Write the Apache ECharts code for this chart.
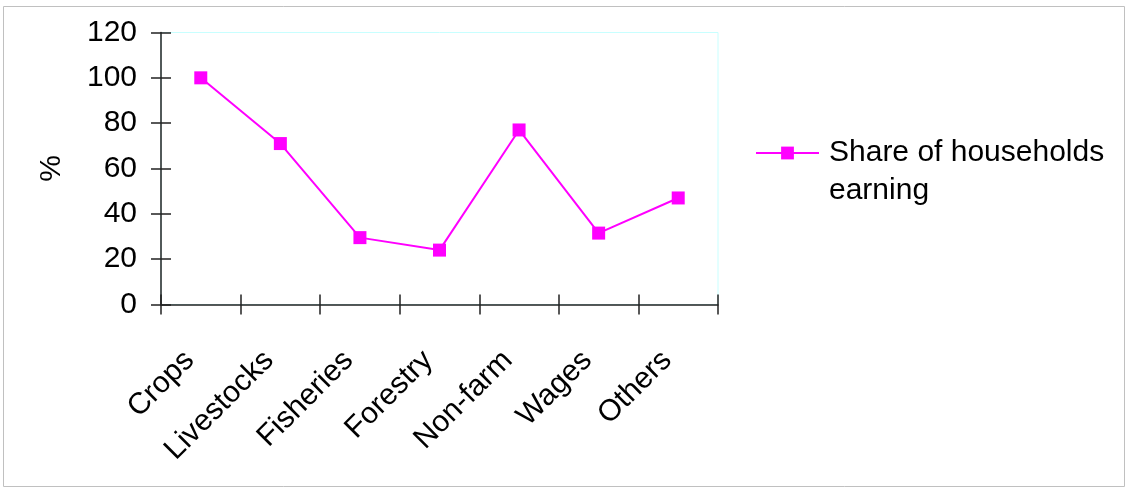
<!DOCTYPE html>
<html>
<head>
<meta charset="utf-8">
<script src="https://cdn.jsdelivr.net/npm/echarts@6/dist/echarts.min.js"></script>
<style>
html,body{margin:0;padding:0;background:#fff;}
#chart{width:1128px;height:489px;}
</style>
</head>
<body>
<div id="chart"></div>
<script>
var categories = ['Crops', 'Livestocks', 'Fisheries', 'Forestry', 'Non-farm', 'Wages', 'Others'];
var shareValues = [100, 71, 29.5, 24, 77, 31.5, 47];
var seriesName = 'Share of households earning';
var yTicks = { min: 0, max: 120, interval: 20 };

var FONT = '"Liberation Sans", Arial, sans-serif';
var chart = echarts.init(document.getElementById('chart'), null, { renderer: 'canvas' });
var axisColor = '#222';
var option = {
  backgroundColor: '#fff',
  animation: false,
  textStyle: { fontFamily: FONT },
  grid: {
    left: 161, top: 32.5, right: 410, bottom: 184.5,
    show: true, borderColor: '#c8ffff', borderWidth: 1, backgroundColor: 'transparent'
  },
  graphic: [{
    type: 'rect', silent: true,
    shape: { x: 3.5, y: 6.5, width: 1121, height: 480 },
    style: { fill: 'none', stroke: '#c0c0c0', lineWidth: 1 }
  }],
  legend: {
    left: 755, top: 96, padding: 0,
    orient: 'vertical',
    itemWidth: 63, itemHeight: 16,
    data: [seriesName],
    formatter: function () { return '\nShare of households\nearning'; },
    textStyle: { fontFamily: FONT, fontSize: 30, color: '#000', lineHeight: 38, padding: [0, 0, 0, 5] }
  },
  xAxis: [{
    type: 'category', data: categories, boundaryGap: true,
    axisLine: { show: true, onZero: false, lineStyle: { color: axisColor, width: 1.5 } },
    axisTick: { show: true, length: 10, alignWithLabel: false, lineStyle: { color: axisColor, width: 1.5 } },
    axisLabel: { rotate: 45, fontSize: 30, color: '#000', margin: 40, padding: [0, 16, 0, 0], fontFamily: FONT, interval: 0 },
    splitLine: { show: false }
  }, {
    type: 'category', data: categories, boundaryGap: true, position: 'top', offset: -272,
    axisLine: { show: false },
    axisTick: { show: true, length: 10, alignWithLabel: false, lineStyle: { color: axisColor, width: 1.5 } },
    axisLabel: { show: false },
    splitLine: { show: false }
  }],
  yAxis: [{
    type: 'value', min: yTicks.min, max: yTicks.max, interval: yTicks.interval,
    name: '%', nameLocation: 'middle', nameGap: 94, nameRotate: 90,
    nameTextStyle: { fontSize: 30, color: '#000', fontFamily: FONT },
    axisLine: { show: true, lineStyle: { color: axisColor, width: 1.5 } },
    axisTick: { show: true, length: 10, lineStyle: { color: axisColor, width: 1.5 } },
    axisLabel: { fontSize: 30, color: '#000', margin: 24, fontFamily: FONT },
    splitLine: { show: false }
  }, {
    type: 'value', min: yTicks.min, max: yTicks.max, interval: yTicks.interval,
    position: 'right', offset: -557,
    axisLine: { show: false },
    axisTick: { show: true, length: 10, lineStyle: { color: axisColor, width: 1.5 } },
    axisLabel: { show: false },
    splitLine: { show: false }
  }],
  series: [{
    name: seriesName,
    type: 'line',
    xAxisIndex: 0, yAxisIndex: 0,
    data: shareValues,
    symbol: 'rect', symbolSize: 13,
    color: '#ff00ff',
    itemStyle: { color: '#ff00ff' },
    lineStyle: { color: '#ff00ff', width: 2 }
  }]
};
chart.setOption(option);
</script>
</body>
</html>
